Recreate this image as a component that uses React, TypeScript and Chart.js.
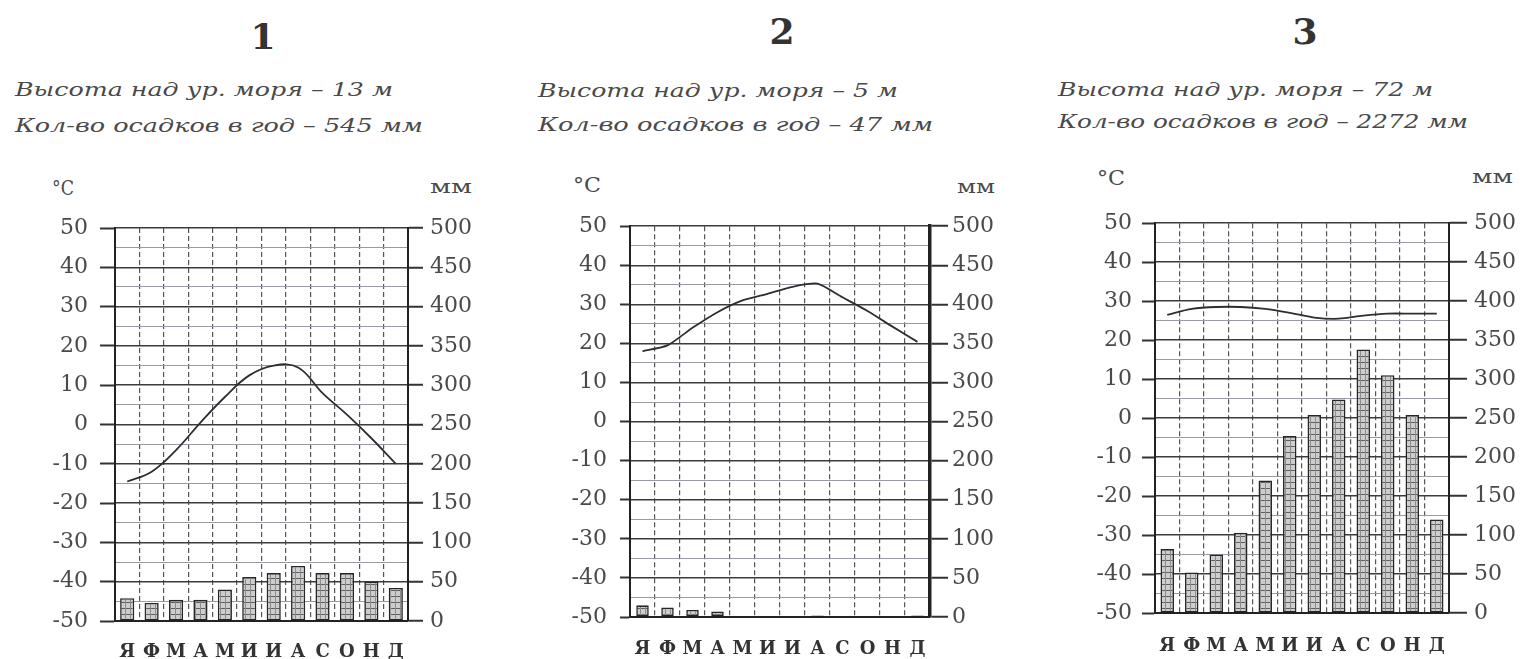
import React, { useEffect, useRef } from 'react';
import { Chart, registerables } from 'chart.js';

Chart.register(...registerables);

// ---------- data ----------
const months = ['Я', 'Ф', 'М', 'А', 'М', 'И', 'И', 'А', 'С', 'О', 'Н', 'Д'];
const tempTicks = [-50, -40, -30, -20, -10, 0, 10, 20, 30, 40, 50];
const precipGridTicks = [0, 25, 50, 75, 100, 125, 150, 175, 200, 225, 250, 275, 300, 325, 350, 375, 400, 425, 450, 475, 500];
const precipLabelTicks = [0, 50, 100, 150, 200, 250, 300, 350, 400, 450, 500];

const temp1 = [-14.5, -12, -6.5, 0.5, 7, 12.5, 15, 14.5, 8, 2.5, -3.5, -10];
const precip1 = [29, 23, 27, 27, 40, 56, 61, 70, 61, 61, 50, 42];

const temp2 = [18, 19.5, 24, 28, 31, 32.7, 34.5, 35.3, 31.8, 28.3, 24.3, 20.4];
const precip2 = [15, 12, 9, 7, 0, 0, 0, 2, 0, 0, 0, 2];

const temp3 = [26.5, 28, 28.5, 28.5, 28, 27, 25.8, 25.5, 26.3, 26.8, 26.8, 26.8];
const precip3 = [82, 52, 75, 103, 170, 227, 254, 274, 338, 305, 254, 120];

const titles = ['1', '2', '3'];
const heightLines = ['Высота над ур. моря – 13 м', 'Высота над ур. моря – 5 м', 'Высота над ур. моря – 72 м'];
const precipLines = ['Кол-во осадков в год – 545 мм', 'Кол-во осадков в год – 47 мм', 'Кол-во осадков в год – 2272 мм'];
const unitTemp = '°С';
const unitPrecip = 'мм';

// ---------- layout ----------
const CANVAS_TOP = 200;
const CANVAS_H = 459;

const panels = [
  {
    temp: temp1, precip: precip1,
    canvasLeft: 0, canvasWidth: 500,
    plotLeft: 115, plotRight: 408, plotTop: 228, plotBottom: 621,
    leftTick: 15, leftPad: 12, rightTick: 15, rightPad: 7, rightBorder: 2,
    barPct: 0.58, tension: 0.4, xPad: 21,
    title: { x: 263, b: 48 },
    l1: { x: 15, b: 96, w: 378 }, l2: { x: 15, b: 132, w: 408 },
    uc: { x: 52, b: 195, w: 22 }, um: { x: 430, b: 193, w: 42 },
  },
  {
    temp: temp2, precip: precip2,
    canvasLeft: 520, canvasWidth: 500,
    plotLeft: 630, plotRight: 930, plotTop: 223, plotBottom: 617,
    leftTick: 10, leftPad: 13, rightTick: 18, rightPad: 4, rightBorder: 3.5,
    barPct: 0.5, tension: 0.2, xPad: 22,
    title: { x: 782, b: 43 },
    l1: { x: 538, b: 97, w: 360 }, l2: { x: 538, b: 131, w: 395 },
    uc: { x: 573, b: 192, w: 28 }, um: { x: 957, b: 193, w: 38 },
  },
  {
    temp: temp3, precip: precip3,
    canvasLeft: 1040, canvasWidth: 480,
    plotLeft: 1155, plotRight: 1449, plotTop: 220, plotBottom: 613,
    leftTick: 13, leftPad: 10, rightTick: 18, rightPad: 7, rightBorder: 2,
    barPct: 0.55, tension: 0.3, xPad: 23,
    title: { x: 1305, b: 43 },
    l1: { x: 1058, b: 96, w: 375 }, l2: { x: 1058, b: 128, w: 410 },
    uc: { x: 1097, b: 185, w: 28 }, um: { x: 1472, b: 183, w: 41 },
  },
];

let measureCtx: CanvasRenderingContext2D | null = null;
function measure(text: string, font: string) {
  if (!measureCtx) measureCtx = document.createElement('canvas').getContext('2d');
  measureCtx!.font = font;
  return measureCtx!.measureText(text).width || 1;
}

function StretchText({ text, x, b, w, size, style, weight, color, center }: any) {
  const font = `${style || 'normal'} ${weight || 'normal'} ${size}px "DejaVu Serif"`;
  const m = measure(text, font);
  const sx = w ? w / m : 1;
  const left = center ? x - m / 2 : x;
  return (
    <div
      style={{
        position: 'absolute',
        left,
        top: b - 0.846 * size,
        font,
        lineHeight: `${size}px`,
        color,
        whiteSpace: 'nowrap',
        transform: `scaleX(${sx})`,
        transformOrigin: '0 0',
      }}
    >
      {text}
    </div>
  );
}

function makePattern(ctx: CanvasRenderingContext2D) {
  const t = document.createElement('canvas');
  t.width = 5;
  t.height = 6;
  const g = t.getContext('2d')!;
  g.fillStyle = '#cdcdcd';
  g.fillRect(0, 0, 5, 6);
  g.fillStyle = '#5e5e5e';
  g.fillRect(0, 0, 5, 1);
  g.fillStyle = '#8c8c8c';
  g.fillRect(0, 0, 1, 6);
  return ctx.createPattern(t, 'repeat');
}

function Panel({ cfg }: any) {
  const ref = useRef<HTMLCanvasElement>(null);
  useEffect(() => {
    const canvas = ref.current!;
    const ctx = canvas.getContext('2d')!;
    const pattern = makePattern(ctx);
    const leftW = cfg.plotLeft - cfg.canvasLeft;
    const rightW = cfg.canvasLeft + cfg.canvasWidth - cfg.plotRight;
    const padTop = cfg.plotTop - CANVAS_TOP;
    const xH = CANVAS_TOP + CANVAS_H - cfg.plotBottom;
    const tickFont = { family: 'DejaVu Serif', size: 22 };
    const chart = new Chart(ctx, {
      type: 'bar',
      data: {
        labels: months,
        datasets: [
          {
            type: 'line',
            data: cfg.temp,
            yAxisID: 'y',
            borderColor: '#2e2e2e',
            borderWidth: 1.8,
            pointRadius: 0,
            tension: cfg.tension,
            fill: false,
            order: 0,
          } as any,
          {
            type: 'bar',
            data: cfg.precip,
            yAxisID: 'y2',
            backgroundColor: pattern as any,
            borderColor: '#262626',
            borderWidth: 1.6,
            borderSkipped: false,
            barPercentage: cfg.barPct,
            categoryPercentage: 1,
            order: 1,
          } as any,
        ],
      },
      options: {
        animation: false,
        responsive: false,
        maintainAspectRatio: false,
        layout: { padding: { top: padTop, left: 0, right: 0, bottom: 0 } },
        plugins: { legend: { display: false }, tooltip: { enabled: false } },
        scales: {
          x: {
            type: 'category',
            offset: true,
            grid: { offset: true, drawTicks: false, color: '#555', lineWidth: 1.2 },
            border: { display: true, color: '#222', width: 2, dash: [5, 3] },
            ticks: {
              font: { family: 'DejaVu Serif', size: 18, weight: 'bold' },
              color: '#333',
              padding: cfg.xPad,
              autoSkip: false,
              maxRotation: 0,
            },
            afterFit: (s: any) => { s.height = xH; },
          },
          y: {
            position: 'left',
            min: -50,
            max: 50,
            afterBuildTicks: (s: any) => { s.ticks = tempTicks.map((v) => ({ value: v })); },
            ticks: { font: tickFont, color: '#4a4a4a', padding: cfg.leftPad, autoSkip: false },
            grid: { drawOnChartArea: false, drawTicks: true, tickLength: cfg.leftTick, tickColor: '#333', tickWidth: 2 },
            border: { color: '#222', width: 2 },
            afterFit: (s: any) => { s.width = leftW; },
          },
          y2: {
            position: 'right',
            min: 0,
            max: 500,
            afterBuildTicks: (s: any) => { s.ticks = precipGridTicks.map((v) => ({ value: v })); },
            ticks: {
              font: tickFont,
              color: '#4a4a4a',
              padding: cfg.rightPad,
              autoSkip: false,
              callback: (v: any) => (precipLabelTicks.includes(Number(v)) ? String(v) : ''),
            },
            grid: {
              drawOnChartArea: true,
              drawTicks: true,
              tickLength: cfg.rightTick,
              tickWidth: 2,
              color: (c: any) => (c.tick && precipLabelTicks.includes(c.tick.value) ? '#3c3c3c' : '#9a9aa6'),
              lineWidth: (c: any) => (c.tick && precipLabelTicks.includes(c.tick.value) ? 1.5 : 1),
              tickColor: (c: any) => (c.tick && precipLabelTicks.includes(c.tick.value) ? '#333' : 'rgba(0,0,0,0)'),
            },
            border: { color: '#222', width: cfg.rightBorder },
            afterFit: (s: any) => { s.width = rightW; },
          },
        },
      } as any,
    });
    return () => chart.destroy();
  }, []);
  return (
    <canvas
      ref={ref}
      width={cfg.canvasWidth}
      height={CANVAS_H}
      style={{ position: 'absolute', left: cfg.canvasLeft, top: CANVAS_TOP, width: cfg.canvasWidth, height: CANVAS_H }}
    />
  );
}

export default function App() {
  return (
    <div style={{ position: 'fixed', left: 0, top: 0, width: 1520, height: 659, background: '#fff', overflow: 'hidden' }}>
      {panels.map((p, i) => (
        <React.Fragment key={i}>
          <Panel cfg={p} />
          <StretchText text={titles[i]} x={p.title.x} b={p.title.b} size={36} weight="bold" color="#333" center />
          <StretchText text={heightLines[i]} x={p.l1.x} b={p.l1.b} w={p.l1.w} size={18} style="italic" color="#4a4a4a" />
          <StretchText text={precipLines[i]} x={p.l2.x} b={p.l2.b} w={p.l2.w} size={18} style="italic" color="#4a4a4a" />
          <StretchText text={unitTemp} x={p.uc.x} b={p.uc.b} w={p.uc.w} size={20} color="#4a4a4a" />
          <StretchText text={unitPrecip} x={p.um.x} b={p.um.b} w={p.um.w} size={18} color="#4a4a4a" />
        </React.Fragment>
      ))}
    </div>
  );
}
